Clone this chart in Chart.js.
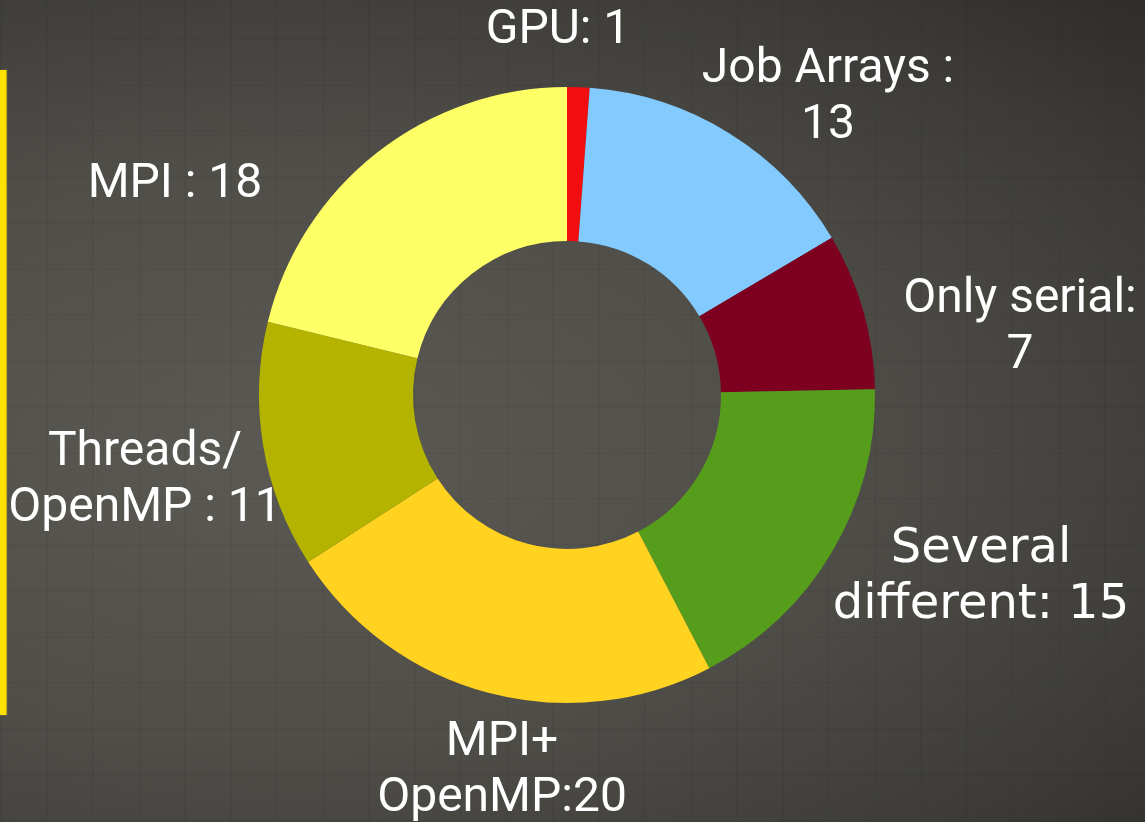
<!DOCTYPE html>
<html>
<head>
<meta charset="utf-8">
<script src="https://cdn.jsdelivr.net/npm/chart.js@4.4.1/dist/chart.umd.min.js"></script>
<style>
  html, body { margin: 0; padding: 0; }
  body {
    width: 1145px; height: 822px; overflow: hidden; position: relative;
    background:
      repeating-linear-gradient(90deg, rgba(0,0,0,0.04) 0 2px, transparent 2px 46px),
      repeating-linear-gradient(0deg, rgba(0,0,0,0.04) 0 2px, transparent 2px 46px),
      radial-gradient(ellipse at 25% 55%, #5b5953 0%, #504e49 45%, #3c3b37 80%, #2e2d2a 100%);
  }
  #edge {
    position: absolute; left: 0; top: 70px; width: 6px; height: 645px;
    background: #ffe100;
    box-shadow: 1px 0 1px rgba(255,225,0,0.6);
  }
  #wrap { position: absolute; left: 0; top: 0; width: 1145px; height: 822px; }
</style>
</head>
<body>
<div id="edge"></div>
<div id="wrap"><canvas id="chart"></canvas></div>
<script>
// =========================
// データ
// =========================
const categories = ["GPU", "Job Arrays", "Only serial", "Several different", "MPI+OpenMP", "Threads/OpenMP", "MPI"];
const values = [1, 13, 7, 15, 20, 11, 18];
const colors = ["#f20e0e", "#83caff", "#7e0021", "#579d1c", "#ffd320", "#b4b400", "#ffff66"];

// ラベルの文字列（行ごと）
const labelLines = [
  ["GPU: 1"],
  ["Job Arrays :", "13"],
  ["Only serial:", "7"],
  ["Several", "different: 15"],
  ["MPI+", "OpenMP:20"],
  ["Threads/", "OpenMP : 11"],
  ["MPI : 18"]
];

// ラベル位置（ドーナツ中心からのずれ）とフォント
const labelOffsets = [[-9, -364], [261, -297], [453, -67], [414, 183], [-65, 376], [-422, 86], [-392, -210]];
const labelFonts = ["Roboto", "Roboto", "Roboto", "DejaVu Sans", "Roboto", "Roboto", "Roboto"];

const outsideLabels = {
  id: "outsideLabels",
  afterDraw(chart) {
    const ctx = chart.ctx;
    const arc = chart.getDatasetMeta(0).data[0];
    const cx = arc.x, cy = arc.y;
    ctx.save();
    ctx.fillStyle = "#ffffff";
    ctx.textAlign = "center";
    ctx.textBaseline = "middle";
    labelLines.forEach((lines, i) => {
      const size = 48;
      ctx.font = size + "px '" + labelFonts[i] + "'";
      const lh = 56;
      const x = cx + labelOffsets[i][0];
      const y0 = cy + labelOffsets[i][1] - (lines.length - 1) * lh / 2;
      lines.forEach((t, j) => ctx.fillText(t, x, y0 + j * lh));
    });
    ctx.restore();
  }
};

new Chart(document.getElementById("chart"), {
  type: "doughnut",
  data: {
    labels: categories,
    datasets: [{
      data: values,
      backgroundColor: colors,
      borderWidth: 0
    }]
  },
  options: {
    responsive: true,
    maintainAspectRatio: false,
    animation: false,
    cutout: "50%",
    layout: { padding: { left: 259, right: 270, top: 87, bottom: 119 } },
    plugins: {
      legend: { display: false },
      tooltip: { enabled: false }
    }
  },
  plugins: [outsideLabels]
});
</script>
</body>
</html>
